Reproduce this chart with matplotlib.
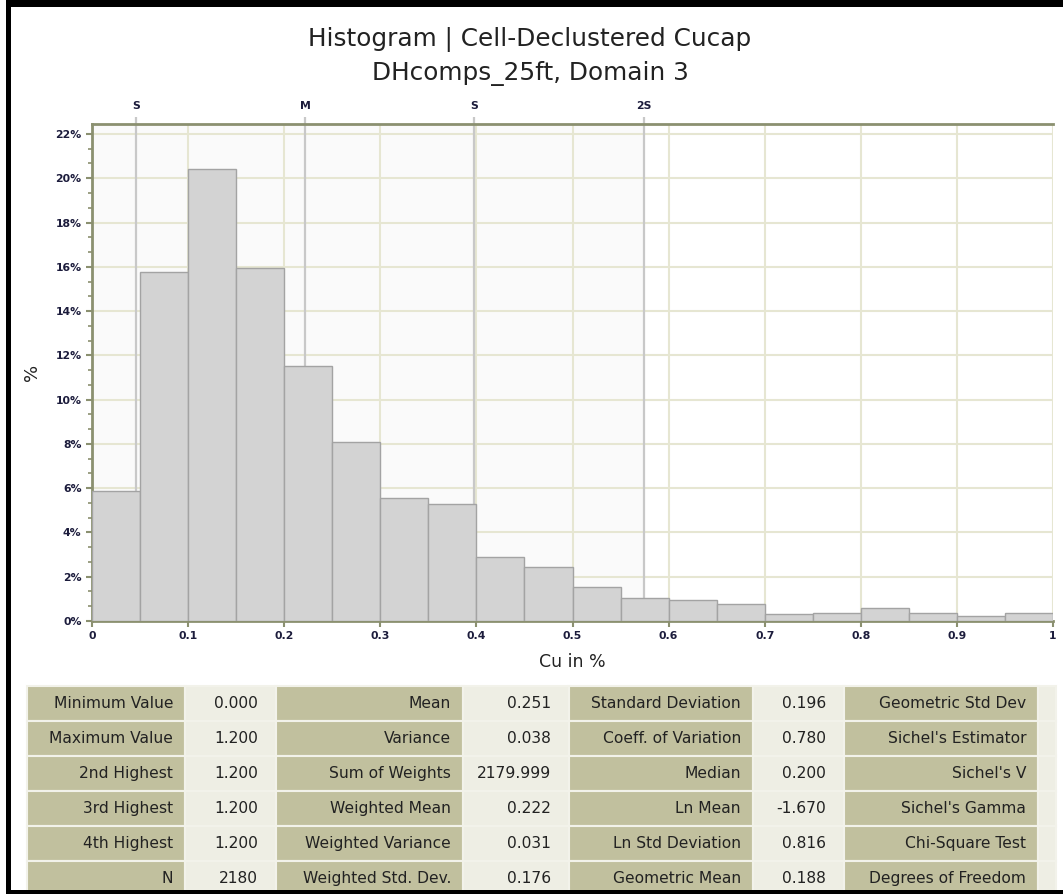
import matplotlib.pyplot as plt
from matplotlib.patches import Rectangle
from matplotlib.ticker import MultipleLocator, FuncFormatter

plt.rcParams['font.family'] = ['DejaVu Sans']

# histogram data (bin width 0.05, percent of samples)
bin_edges = [0.00, 0.05, 0.10, 0.15, 0.20, 0.25, 0.30, 0.35, 0.40, 0.45,
             0.50, 0.55, 0.60, 0.65, 0.70, 0.75, 0.80, 0.85, 0.90, 0.95]
pct = [5.87, 15.78, 20.43, 15.93, 11.53, 8.08, 5.55, 5.28, 2.89, 2.44,
       1.52, 1.02, 0.96, 0.75, 0.32, 0.38, 0.57, 0.36, 0.21, 0.38]

# mean / std markers along the top
stat_labels = ["S", "M", "S", "2S"]
stat_pos = [0.046, 0.222, 0.398, 0.574]

# statistics table
col1_names = ["Minimum Value", "Maximum Value", "2nd Highest", "3rd Highest", "4th Highest", "N"]
col1_vals = ["0.000", "1.200", "1.200", "1.200", "1.200", "2180"]
col2_names = ["Mean", "Variance", "Sum of Weights", "Weighted Mean", "Weighted Variance", "Weighted Std. Dev."]
col2_vals = ["0.251", "0.038", "2179.999", "0.222", "0.031", "0.176"]
col3_names = ["Standard Deviation", "Coeff. of Variation", "Median", "Ln Mean", "Ln Std Deviation", "Geometric Mean"]
col3_vals = ["0.196", "0.780", "0.200", "-1.670", "0.816", "0.188"]
col4_names = ["Geometric Std Dev", "Sichel's Estimator", "Sichel's V", "Sichel's Gamma", "Chi-Square Test", "Degrees of Freedom"]
col4_vals = ["", "", "", "", "", ""]

W, H = 1063, 894
fig = plt.figure(figsize=(W / 100, H / 100), dpi=100)

olive = "#8b9070"
grid_c = "#e6e6d2"
tick_c = "#1c1c3c"

ax = fig.add_axes([92 / W, 1 - 621 / H, 961 / W, 497 / H])
ax.set_xlim(0, 1)
ax.set_ylim(0, 22.45)

# shaded zone up to mean + 2 std
ax.axvspan(0, stat_pos[-1], color="#fafafa", zorder=0)
ax.bar(bin_edges, pct, width=0.05, align="edge", color="#d3d3d3",
       edgecolor="#a3a3a3", linewidth=1.0, zorder=3)
for p in stat_pos:
    ax.axvline(p, color="#c8c8c8", lw=1.6, zorder=2)

ax.xaxis.set_major_locator(MultipleLocator(0.1))
ax.yaxis.set_major_locator(MultipleLocator(2))
ax.yaxis.set_minor_locator(MultipleLocator(2 / 3))
ax.xaxis.set_major_formatter(FuncFormatter(lambda v, _: "0" if abs(v) < 1e-9 else ("1" if abs(v - 1) < 1e-9 else f"{v:.1f}")))
ax.yaxis.set_major_formatter(FuncFormatter(lambda v, _: f"{v:.0f}%"))
ax.grid(True, which="major", color=grid_c, lw=1.5, zorder=1)
ax.set_axisbelow(True)

for side in ["left", "bottom", "top"]:
    ax.spines[side].set_color(olive)
    ax.spines[side].set_linewidth(2)
ax.spines["right"].set_visible(False)
ax.tick_params(axis="both", which="major", color=olive, length=4, width=1.5,
               labelsize=7.8, labelcolor=tick_c)
ax.tick_params(axis="y", which="minor", color=olive, length=3, width=1.2)
for lab in ax.get_xticklabels() + ax.get_yticklabels():
    lab.set_fontweight("bold")

ax.set_xlabel("Cu in %", fontsize=12.5, color="#222222", labelpad=8)
ax.set_ylabel("%", fontsize=13, color="#222222", labelpad=10)

# top axis with stat markers
top = ax.secondary_xaxis("top")
top.set_ticks(stat_pos)
top.set_xticklabels(stat_labels, fontsize=7.8, fontweight="bold", color=tick_c)
top.tick_params(length=5, width=1.6, color="#c8c8c8", pad=4)
top.spines["top"].set_visible(False)

fig.text(530 / W, 1 - 40 / H, "Histogram | Cell-Declustered Cucap",
         ha="center", va="center", fontsize=17.8, color="#222222")
fig.text(530 / W, 1 - 74 / H, "DHcomps_25ft, Domain 3",
         ha="center", va="center", fontsize=17.8, color="#222222")

# overlay in pixel coordinates for table and frame
ov = fig.add_axes([0, 0, 1, 1], zorder=10)
ov.set_xlim(0, W)
ov.set_ylim(H, 0)
ov.axis("off")

label_c = "#c1c09e"
value_c = "#eeeee4"
col_x = [27, 185, 276, 463, 569, 753, 844, 1038, 1056]
row_top = 686
row_h = 35
groups = [(col1_names, col1_vals), (col2_names, col2_vals),
          (col3_names, col3_vals), (col4_names, col4_vals)]
for g, (names, vals) in enumerate(groups):
    x0, x1, x2 = col_x[2 * g], col_x[2 * g + 1], col_x[2 * g + 2]
    for r in range(len(names)):
        y0 = row_top + r * row_h
        ov.add_patch(Rectangle((x0, y0), x1 - x0, row_h, facecolor=label_c,
                               edgecolor="#f2f2ea", lw=1.5))
        ov.add_patch(Rectangle((x1, y0), x2 - x1, row_h, facecolor=value_c,
                               edgecolor="#f2f2ea", lw=1.5))
        yc = y0 + row_h / 2
        ov.text(x1 - 12, yc, names[r], ha="right", va="center",
                fontsize=11.2, color="#222222")
        if vals[r]:
            ov.text(x2 - 18, yc, vals[r], ha="right", va="center",
                    fontsize=11.2, color="#222222")

# black window frame
ov.add_patch(Rectangle((0, 0), W, 7, facecolor="black", edgecolor="none"))
ov.add_patch(Rectangle((6, 0), 5, H, facecolor="black", edgecolor="none"))
ov.add_patch(Rectangle((0, 890), W, 4, facecolor="black", edgecolor="none"))
ov.add_patch(Rectangle((0, 0), 6, H, facecolor="white", edgecolor="none"))

fig.savefig("out.png", dpi=100)
